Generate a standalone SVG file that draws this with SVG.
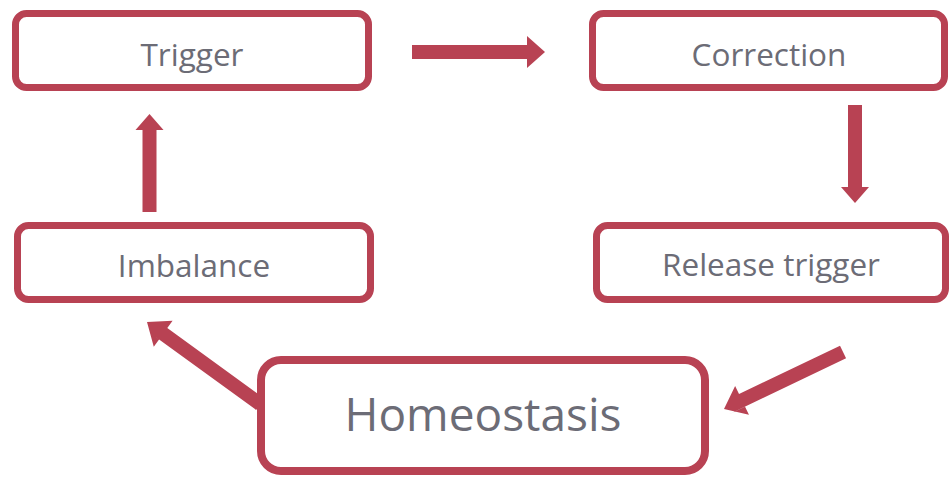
<svg xmlns="http://www.w3.org/2000/svg" width="951" height="477" viewBox="0 0 951 477">
<style>
.box{fill:#fff;stroke:#b84253;stroke-width:7}
.big{stroke-width:8}
.lbl{font-family:"Open Sans","Noto Sans",sans-serif;fill:#6c6c76;text-anchor:middle}
.arr{fill:#b84253}
</style>
<rect width="951" height="477" fill="#fff"/>
<g id="connectors">
<path class="arr" d="M0,-7 L-18,-7 L-18,-16 L0,0 L-18,16 L-18,7 L-133,7 L-133,-7 Z" transform="translate(545,52)"/>
<path class="arr" d="M0,-7 L-16,-7 L-16,-14 L0,0 L-16,14 L-16,7 L-98,7 L-98,-7 Z" transform="translate(149.5,114) rotate(-90)"/>
<path class="arr" d="M0,-7 L-16,-7 L-16,-14 L0,0 L-16,14 L-16,7 L-98,7 L-98,-7 Z" transform="translate(855,203) rotate(90)"/>
<path class="arr" d="M0,-7 L-20,-7 L-20,-16 L0,0 L-20,16 L-20,7 L-140,7 L-140,-7 Z" transform="translate(147,322) rotate(216)"/>
<path class="arr" d="M0,-7 L-20,-7 L-20,-16 L0,0 L-20,16 L-20,7 L-132,7 L-132,-7 Z" transform="translate(724,409) rotate(154.4)"/>
</g>
<g id="trigger"><rect class="box" x="15.5" y="13.5" width="353" height="74" rx="11"/><text class="lbl" x="192" y="66" font-size="31.5">Trigger</text></g>
<g id="correction"><rect class="box" x="592.5" y="13.5" width="352" height="74" rx="11"/><text class="lbl" x="769" y="66" font-size="31.5">Correction</text></g>
<g id="imbalance"><rect class="box" x="17.5" y="225.5" width="353" height="74" rx="11"/><text class="lbl" x="194" y="277" font-size="31.5">Imbalance</text></g>
<g id="release"><rect class="box" x="596.5" y="225.5" width="349" height="74" rx="11"/><text class="lbl" x="771" y="276" font-size="31.5">Release trigger</text></g>
<g id="homeostasis"><rect class="box big" x="261" y="360" width="444" height="111" rx="20"/><text class="lbl" x="483" y="431" font-size="46">Homeostasis</text></g>
</svg>
